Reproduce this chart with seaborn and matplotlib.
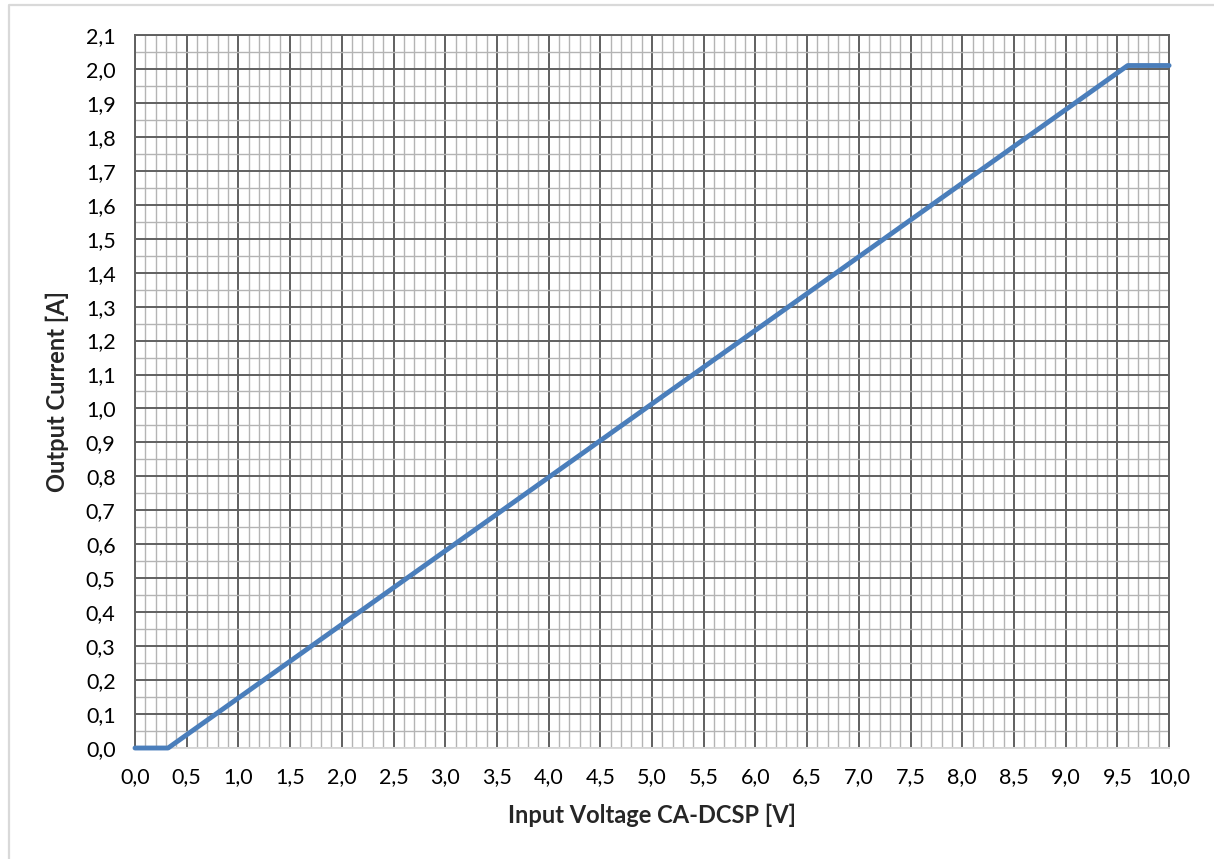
import numpy as np
import pandas as pd
import seaborn as sns
import matplotlib.pyplot as plt
from matplotlib.ticker import MultipleLocator, FuncFormatter
from matplotlib.lines import Line2D

sns.set_theme(style="white")
plt.rcParams['font.family'] = ['Lato', 'DejaVu Sans']

# curve
voltage = [0.0, 0.32, 9.6, 10.0]
current = [0.0, 0.0, 2.01, 2.01]

df = pd.DataFrame({'voltage': voltage, 'current': current})

fig = plt.figure(figsize=(12.14, 8.59), dpi=100)
ax = fig.add_axes([0.1112, 0.1292, 0.8518, 0.8301])

# outer chart frame, only top and left edges are visible
fx = 8.5 / 1214
fy = 1 - 4.5 / 859
fig.lines.append(Line2D([fx, fx, 1.0], [0.0, fy, fy], transform=fig.transFigure,
                        color='#d9d9d9', linewidth=1.6))

sns.lineplot(data=df, x='voltage', y='current', ax=ax, color='#4a7ebb',
             linewidth=3.5, zorder=5, clip_on=False)

ax.set_xlim(0, 10)
ax.set_ylim(0, 2.1)
ax.xaxis.set_major_locator(MultipleLocator(0.5))
ax.xaxis.set_minor_locator(MultipleLocator(0.1))
ax.yaxis.set_major_locator(MultipleLocator(0.1))
ax.yaxis.set_minor_locator(MultipleLocator(0.05))
fmt = FuncFormatter(lambda v, p: f'{v:.1f}'.replace('.', ','))
ax.xaxis.set_major_formatter(fmt)
ax.yaxis.set_major_formatter(fmt)

ax.grid(which='major', color='#606060', linewidth=1.4)
ax.grid(which='minor', color='#b4b4b4', linewidth=1.0)
ax.set_axisbelow(True)

ax.tick_params(which='both', length=0, labelsize=15.5, colors='black')
ax.tick_params(axis='x', pad=14)
ax.tick_params(axis='y', pad=14)

for side in ['top', 'right', 'left']:
    ax.spines[side].set_color('#606060')
    ax.spines[side].set_linewidth(1.4)
ax.spines['bottom'].set_color('#d9d9d9')
ax.spines['bottom'].set_linewidth(1.4)

ax.set_xlabel('Input Voltage CA-DCSP [V]', fontsize=17, fontweight='bold', labelpad=12)
ax.set_ylabel('Output Current [A]', fontsize=17, fontweight='bold', labelpad=12)

fig.savefig('out.png', dpi=100)
